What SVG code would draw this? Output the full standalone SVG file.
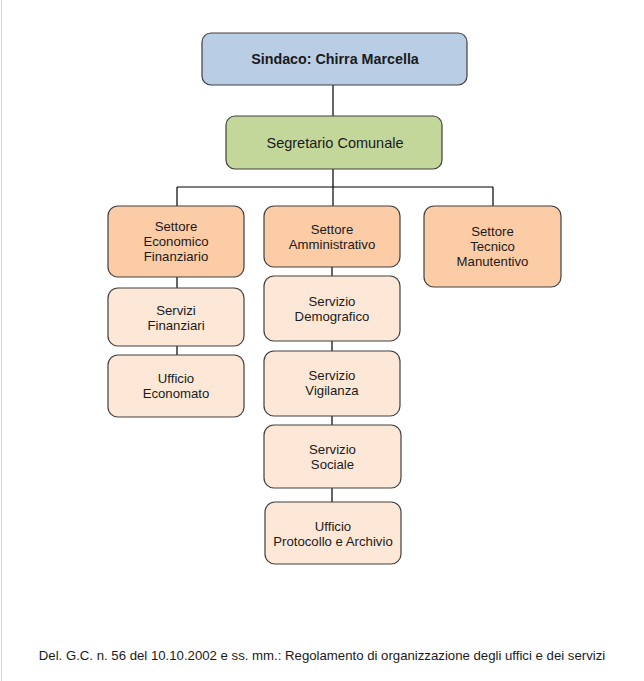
<svg xmlns="http://www.w3.org/2000/svg" width="644" height="681" viewBox="0 0 644 681">
<style>
.b{stroke:#404040;stroke-width:1.2}
.sec{fill:#fbcca6}
.sub{fill:#fde8d8}
.t{font-family:"Liberation Sans",Arial,sans-serif;font-size:13.2px;fill:#1a1a1a;text-anchor:middle}
.c{stroke:#000;stroke-width:1.2;fill:none}
</style>
<rect x="0" y="0" width="644" height="681" fill="#fff"/>
<line x1="1.5" y1="0" x2="1.5" y2="681" stroke="#d8d8d8" stroke-width="1"/>
<g id="connectors">
<path class="c" d="M333 85V116M333 169V187M177 187H493M177 187V206M333 187V206M493 187V206"/>
<path class="c" d="M177 277V288M177 346V355"/>
<path class="c" d="M332 267V276M332 341V351M332 416V425M332 488V502"/>
</g>
<g id="sindaco"><rect class="b" x="202" y="33" width="265" height="52" rx="9" fill="#b9cde5"/><text class="t" x="335" y="64" style="font-weight:bold;font-size:14.3px">Sindaco: Chirra Marcella</text></g>
<g id="segretario"><rect class="b" x="226" y="116" width="216" height="53" rx="9" fill="#c4d79b"/><text class="t" x="335" y="147.5" style="font-size:14.5px">Segretario Comunale</text></g>
<g id="settore-ef"><rect class="b sec" x="108" y="206" width="136" height="71" rx="10"/><text class="t" x="176" y="231">Settore</text><text class="t" x="176" y="246">Economico</text><text class="t" x="176" y="261">Finanziario</text></g>
<g id="settore-amm"><rect class="b sec" x="264" y="206" width="136" height="61" rx="10"/><text class="t" x="332" y="234">Settore</text><text class="t" x="332" y="249">Amministrativo</text></g>
<g id="settore-tec"><rect class="b sec" x="424" y="206" width="137" height="81" rx="10"/><text class="t" x="492.5" y="236">Settore</text><text class="t" x="492.5" y="251">Tecnico</text><text class="t" x="492.5" y="266">Manutentivo</text></g>
<g id="servizi-fin"><rect class="b sub" x="108" y="288" width="136" height="58" rx="10"/><text class="t" x="176" y="315">Servizi</text><text class="t" x="176" y="330">Finanziari</text></g>
<g id="ufficio-econ"><rect class="b sub" x="108" y="355" width="136" height="62" rx="10"/><text class="t" x="176" y="383">Ufficio</text><text class="t" x="176" y="398">Economato</text></g>
<g id="servizio-demo"><rect class="b sub" x="264" y="276" width="136" height="65" rx="10"/><text class="t" x="332" y="306">Servizio</text><text class="t" x="332" y="321">Demografico</text></g>
<g id="servizio-vig"><rect class="b sub" x="264" y="351" width="136" height="65" rx="10"/><text class="t" x="332" y="380">Servizio</text><text class="t" x="332" y="395">Vigilanza</text></g>
<g id="servizio-soc"><rect class="b sub" x="264" y="425" width="137" height="63" rx="10"/><text class="t" x="332.5" y="454">Servizio</text><text class="t" x="332.5" y="469">Sociale</text></g>
<g id="ufficio-prot"><rect class="b sub" x="265" y="502" width="136" height="62" rx="10"/><text class="t" x="333" y="531">Ufficio</text><text class="t" x="333" y="546">Protocollo e Archivio</text></g>
<text class="t" x="322" y="660">Del. G.C. n. 56 del 10.10.2002 e ss. mm.: Regolamento di organizzazione degli uffici e dei servizi</text>
</svg>
